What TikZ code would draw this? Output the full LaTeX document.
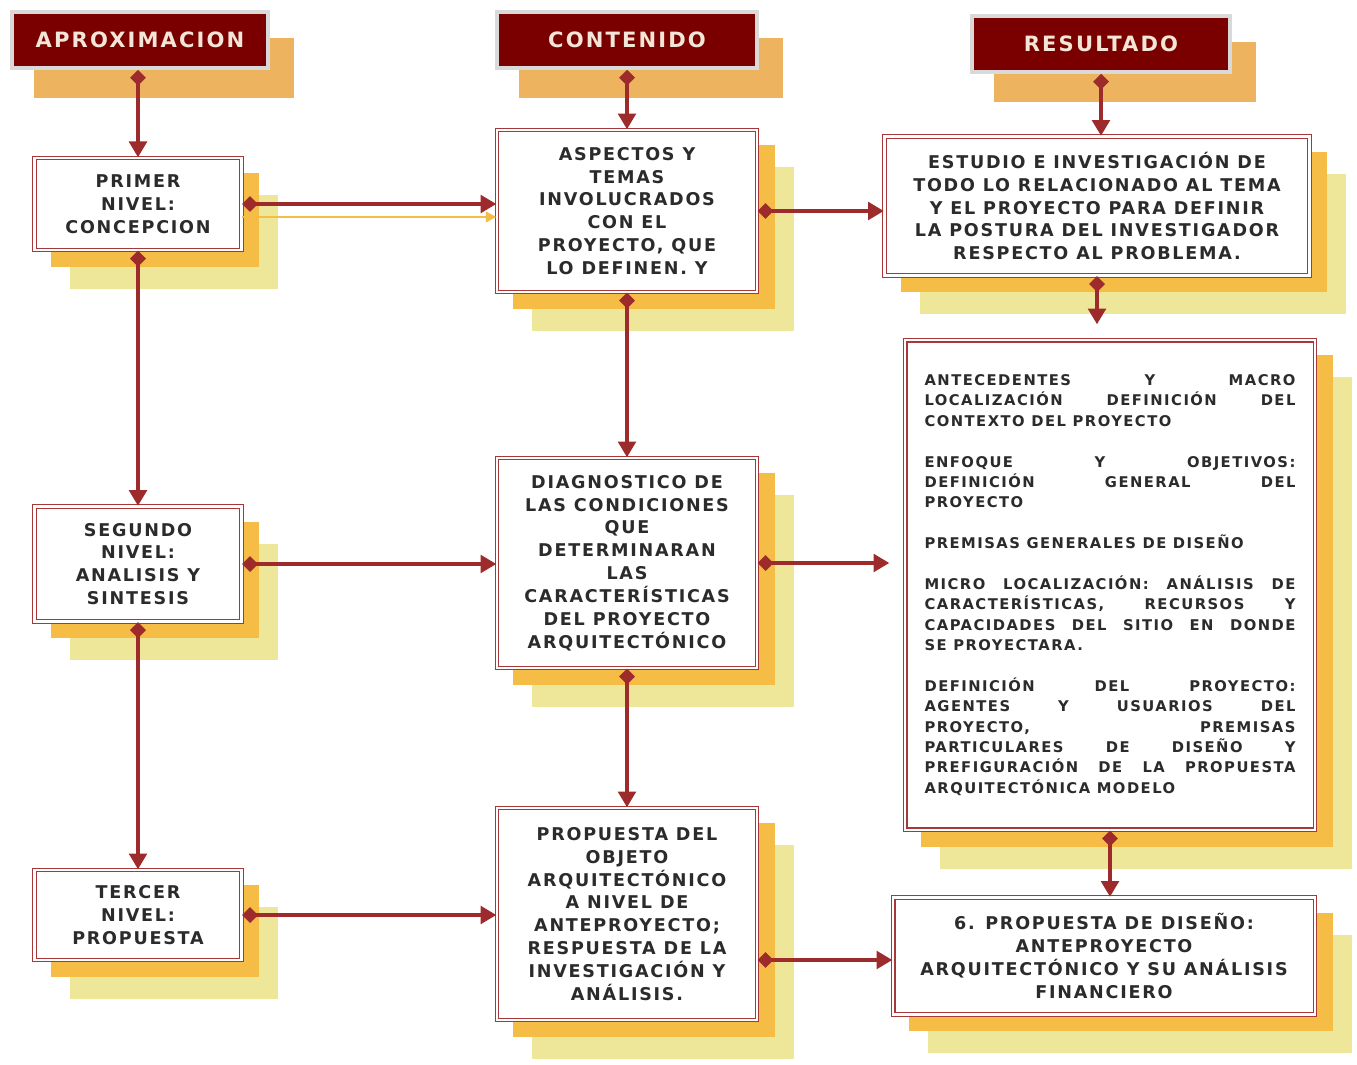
\documentclass[tikz,border=0pt]{standalone}
\usepackage{fontspec}
\setmainfont{DejaVu Sans}[LetterSpace=10]
\usetikzlibrary{arrows.meta,backgrounds}
\definecolor{vino}{HTML}{7A0000}
\definecolor{borde}{HTML}{A83838}
\definecolor{flecha}{HTML}{9E2B2B}
\definecolor{naranja}{HTML}{F5BD45}
\definecolor{amarillo}{HTML}{EEE79A}
\definecolor{naranjatit}{HTML}{EDB35E}
\definecolor{letra}{HTML}{2B2B2B}
\definecolor{letratit}{HTML}{F3E6D8}
\tikzset{
  titulo/.style={fill=vino, draw=black!15, line width=2pt, text=letratit,
    font=\bfseries\fontsize{12}{14}\selectfont, minimum height=1.12cm},
  caja/.style={fill=white, draw=borde, line width=0.8pt, double=white,
    double distance=1.2pt, text=letra, align=center,
    font=\bfseries\fontsize{10}{13}\selectfont},
  flechita/.style={draw=flecha, line width=2.2pt,
    {Diamond[length=9pt,width=9pt]}-{Triangle[length=9pt,width=10pt]}},
}
\begin{document}
\begin{tikzpicture}[x=0.02cm,y=-0.02cm]
\useasboundingbox (0,0) rectangle (1357,1065);
\node[titulo, minimum width=5.12cm] (aprox) at (140,40) {APROXIMACION};
\node[titulo, minimum width=5.2cm] (cont) at (627,40) {CONTENIDO};
\node[titulo, minimum width=5.16cm] (res) at (1101,44) {RESULTADO};
\node[caja, minimum width=4.14cm, minimum height=1.84cm] (primer) at (138,204) {PRIMER\\NIVEL:\\CONCEPCION};
\node[caja, minimum width=4.14cm, minimum height=2.3cm] (segundo) at (138,564) {SEGUNDO\\NIVEL:\\ANALISIS Y\\SINTESIS};
\node[caja, minimum width=4.14cm, minimum height=1.8cm] (tercer) at (138,915) {TERCER\\NIVEL:\\PROPUESTA};
\node[caja, minimum width=5.2cm, minimum height=3.24cm] (aspectos) at (627,211) {ASPECTOS Y\\TEMAS\\INVOLUCRADOS\\CON EL\\PROYECTO, QUE\\LO DEFINEN. Y};
\node[caja, minimum width=5.2cm, minimum height=4.2cm] (diag) at (627,563) {DIAGNOSTICO DE\\LAS CONDICIONES\\QUE\\DETERMINARAN\\LAS\\CARACTERÍSTICAS\\DEL PROYECTO\\ARQUITECTÓNICO};
\node[caja, minimum width=5.2cm, minimum height=4.24cm] (objeto) at (627,914) {PROPUESTA DEL\\OBJETO\\ARQUITECTÓNICO\\A NIVEL DE\\ANTEPROYECTO;\\RESPUESTA DE LA\\INVESTIGACIÓN Y\\ANÁLISIS.};
\node[caja, minimum width=8.5cm, minimum height=2.78cm] (estudio) at (1097,206) {ESTUDIO E INVESTIGACIÓN DE\\TODO LO RELACIONADO AL TEMA\\Y EL PROYECTO PARA DEFINIR\\LA POSTURA DEL INVESTIGADOR\\RESPECTO AL PROBLEMA.};
\node[caja, minimum width=8.2cm, minimum height=9.8cm, text width=7.42cm, align=justify,
  font=\bfseries\fontsize{8.4}{11.6}\selectfont, execute at begin node={\hyphenpenalty=10000}] (lista) at (1110,585)
  {ANTECEDENTES Y MACRO\linebreak LOCALIZACIÓN DEFINICIÓN DEL\linebreak CONTEXTO DEL PROYECTO\par\vskip11.6pt
   ENFOQUE Y OBJETIVOS:\linebreak DEFINICIÓN GENERAL DEL\linebreak PROYECTO\par\vskip11.6pt
   PREMISAS GENERALES DE DISEÑO\par\vskip11.6pt
   MICRO LOCALIZACIÓN: ANÁLISIS DE\linebreak CARACTERÍSTICAS, RECURSOS Y\linebreak CAPACIDADES DEL SITIO EN DONDE\linebreak SE PROYECTARA.\par\vskip11.6pt
   DEFINICIÓN DEL PROYECTO:\linebreak AGENTES Y USUARIOS DEL\linebreak PROYECTO, PREMISAS\linebreak PARTICULARES DE DISEÑO Y\linebreak PREFIGURACIÓN DE LA PROPUESTA\linebreak ARQUITECTÓNICA MODELO};
\node[caja, minimum width=8.44cm, minimum height=2.34cm] (seis) at (1104,956) {6. PROPUESTA DE DISEÑO:\\ANTEPROYECTO\\ARQUITECTÓNICO Y SU ANÁLISIS\\FINANCIERO};
\begin{scope}[on background layer]
  \fill[white] (0,0) rectangle (1357,1065);
  \foreach \n in {aprox,cont,res}
    \fill[naranjatit] ([shift={(24,28)}]\n.south west) rectangle ([shift={(24,28)}]\n.north east);
  \foreach \n in {primer,segundo,tercer,aspectos,diag,objeto,estudio,lista,seis}{
    \fill[amarillo] ([shift={(36,38)}]\n.south west) rectangle ([shift={(36,38)}]\n.north east);
    \fill[naranja] ([shift={(17,16)}]\n.south west) rectangle ([shift={(17,16)}]\n.north east);
  }
\end{scope}
\draw[naranja, line width=1.2pt, -{Triangle[length=6pt,width=6pt]}] ([yshift=-0.26cm]primer.east) -- ([yshift=-0.26cm]primer.east -| aspectos.west);
\draw[flechita] (aprox.south -| primer.north) -- (primer.north);
\draw[flechita] (primer) -- (segundo);
\draw[flechita] (segundo) -- (tercer);
\draw[flechita] (primer.east) -- (primer.east -| aspectos.west);
\draw[flechita] (segundo.east) -- (segundo.east -| diag.west);
\draw[flechita] (tercer.east) -- (tercer.east -| objeto.west);
\draw[flechita] (cont) -- (aspectos);
\draw[flechita] (aspectos) -- (diag);
\draw[flechita] (diag) -- (objeto);
\draw[flechita] (aspectos.east) -- (aspectos.east -| estudio.west);
\draw[flechita, shorten >=0.3cm] (diag.east) -- (diag.east -| lista.west);
\draw[flechita] ([yshift=-0.92cm]objeto.east) -- ([yshift=-0.92cm]objeto.east -| seis.west);
\draw[flechita] (res) -- (res |- estudio.north);
\draw[flechita, shorten >=0.3cm] (estudio.south) -- (estudio.south |- lista.north);
\draw[flechita] (lista) -- (lista |- seis.north);
\end{tikzpicture}
\end{document}
